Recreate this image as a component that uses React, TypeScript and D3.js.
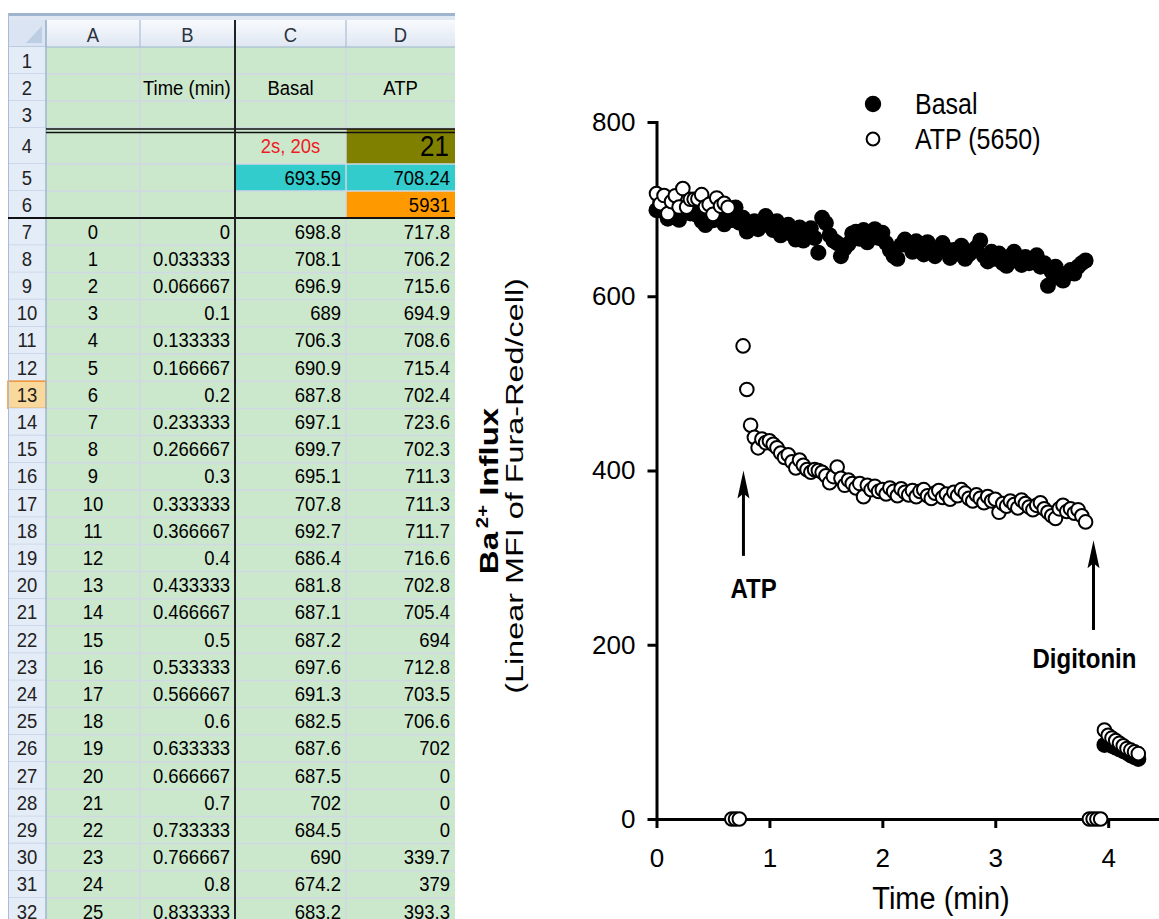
import React, { useEffect, useRef } from "react";
import * as d3 from "d3";

const FONT = "Arial, 'Liberation Sans', Helvetica, sans-serif";

// ---------- spreadsheet contents (left half) ----------
const colLetters = ["A", "B", "C", "D"];
const sampleNo = ["0", "1", "2", "3", "4", "5", "6", "7", "8", "9", "10", "11", "12",
  "13", "14", "15", "16", "17", "18", "19", "20", "21", "22", "23", "24", "25"];
const timeMin = ["0", "0.033333", "0.066667", "0.1", "0.133333", "0.166667", "0.2",
  "0.233333", "0.266667", "0.3", "0.333333", "0.366667", "0.4", "0.433333", "0.466667",
  "0.5", "0.533333", "0.566667", "0.6", "0.633333", "0.666667", "0.7", "0.733333",
  "0.766667", "0.8", "0.833333"];
const basalRaw = ["698.8", "708.1", "696.9", "689", "706.3", "690.9", "687.8", "697.1",
  "699.7", "695.1", "707.8", "692.7", "686.4", "681.8", "687.1", "687.2", "697.6",
  "691.3", "682.5", "687.6", "687.5", "702", "684.5", "690", "674.2", "683.2"];
const atpRaw = ["717.8", "706.2", "715.6", "694.9", "708.6", "715.4", "702.4", "723.6",
  "702.3", "711.3", "711.3", "711.7", "716.6", "702.8", "705.4", "694", "712.8",
  "703.5", "706.6", "702", "0", "0", "0", "339.7", "379", "393.3"];

// ---------- chart data (right half) ----------
const sampleStep = 1 / 30; // one reading every 2 s
const basal: (number | null)[] = [
  698.8, 708.1, 696.9, 689, 706.3, 690.9, 687.8, 697.1, 699.7, 695.1,
  707.8, 692.7, 686.4, 681.8, 687.1, 687.2, 697.6, 691.3, 682.5, 687.6,
  687.5, 702, 684.5, 690, 674.2, 683.2, 686, 677, 684, 692,
  681, 676, 686, 670, 676, 682, 671, 665, 679, 664,
  671, 678, 667, 650, 690, 684, 670, 664, 661, 646,
  655, 660, 672, 674, 666, 676, 662, 670, 677, 667,
  673, 661, 653, 646, 643, 659, 665, 658, 651, 663,
  657, 648, 662, 655, 646, 652, 661, 654, 644, 653,
  649, 658, 643, 648, 652, 656, 664, 646, 640, 651,
  643, 649, 638, 635, 646, 651, 641, 636, 645, 638,
  641, 647, 634, 638, 612, 628, 634, 621, 618, 626,
  630, 626, 634, 638, 641,
  null, null, null, null,
  85, 86, 84, 82, 80, 78, 76, 73, 71, 69,
];
const atp: (number | null)[] = [
  717.8, 706.2, 715.6, 694.9, 708.6, 715.4, 702.4, 723.6, 702.3, 711.3,
  711.3, 711.7, 716.6, 702.8, 705.4, 694, 712.8, 703.5, 706.6, 702,
  0, 0, 0, 543, 493, 452,
  438, 426, 436, 432, 434, 430, 426, 420, 415, 418,
  410, 403, 412, 406, 401, 398, 401, 400, 398, 394,
  386, 393, 404, 391, 383, 389, 385, 380, 385, 370,
  383, 378, 382, 376, 378, 373, 380, 376, 371, 379,
  375, 372, 377, 370, 376, 378, 371, 368, 374, 377,
  369, 373, 367, 375, 371, 378, 374, 368, 365, 372,
  368, 363, 370, 365, 367, 352, 362, 359, 365, 361,
  357, 366, 362, 358, 355, 360, 363, 356, 352, 348,
  345, 356, 360, 353, 356, 351, 355, 348, 341,
  0, 0, 0, 0,
  102, 96, 93, 90, 87, 84, 81, 79, 77, 75,
];
const xTicks = [0, 1, 2, 3, 4];
const yTicks = [0, 200, 400, 600, 800];
const legendItems = [
  { label: "Basal", open: false },
  { label: "ATP (5650)", open: true },
];
const arrows = [
  { label: "ATP", t: 0.77, from: 302, to: 400, labelT: 0.86, labelV: 254 },
  { label: "Digitonin", t: 3.87, from: 217, to: 320, labelT: 3.79, labelV: 173 },
];

// ---------- spreadsheet ----------
const colEdges = [8, 46, 140, 235, 346, 455];
const rowY = d3.scaleLinear().domain([7, 32]).range([218, 898]);
const rowTop = (n: number) =>
  n >= 7 ? rowY(n) : [20, 47, 74, 101, 128, 164, 191][n];
const rowMid = (n: number) => (rowTop(n) + rowTop(n + 1)) / 2;

// excel text looks slightly taller than plain Arial
const Tall = ({ x, y, s = 1.12, children, ...rest }: any) => (
  <text transform={`translate(${x},${y}) scale(1,${s})`} {...rest}>{children}</text>
);

const Sheet = () => {
  const rows = d3.range(1, 33);
  const cellText = (txt: string, col: number, row: number, align: string, extra: any = {}) => {
    const l = colEdges[col + 1];
    const r = colEdges[col + 2];
    const xPos = align === "end" ? r - 5 : align === "start" ? l + 3 : (l + r) / 2;
    return (
      <Tall key={`${col}-${row}-${txt}`} x={xPos} y={rowMid(row) + 7}
        textAnchor={align} fontSize={18.5} fill="#000" {...extra}>{txt}</Tall>
    );
  };
  return (
    <g fontFamily={FONT}>
      {/* frame */}
      <rect x={8} y={13} width={447} height={8} fill="#dfe7f2" />
      <line x1={8} x2={455} y1={14.5} y2={14.5} stroke="#9fb4cf" strokeWidth={3} />
      {/* cells background */}
      <rect x={46} y={47} width={409} height={872} fill="#cce8cc" />
      {/* coloured cells */}
      <rect x={346} y={128} width={109} height={36} fill="#808000" />
      <rect x={235} y={164} width={220} height={27} fill="#33cccc" />
      <rect x={346} y={191} width={109} height={27} fill="#ff9900" />
      {/* grid lines */}
      {rows.map((r) => (
        <line key={"h" + r} x1={46} x2={455} y1={rowTop(r + 1)} y2={rowTop(r + 1)}
          stroke="#d0d7e5" strokeWidth={1.5} />
      ))}
      {[140, 346].map((c) => (
        <line key={"v" + c} x1={c} x2={c} y1={47} y2={919} stroke="#d0d7e5" strokeWidth={1.5} />
      ))}
      {/* column headers */}
      <defs>
        <linearGradient id="hdr" x1="0" y1="0" x2="0" y2="1">
          <stop offset="0" stopColor="#f8fafd" />
          <stop offset="1" stopColor="#dfe7f3" />
        </linearGradient>
      </defs>
      <rect x={8} y={20} width={447} height={27} fill="url(#hdr)" />
      <rect x={8} y={20} width={38} height={27} fill="#dae4f2" />
      <polygon points="42,26 42,43 26,43" fill="#bccde4" />
      {colLetters.map((c, i) => (
        <g key={c}>
          <line x1={colEdges[i + 1]} x2={colEdges[i + 1]} y1={20} y2={47} stroke="#b8c9dc" strokeWidth={1.5} />
          <Tall x={(colEdges[i + 1] + colEdges[i + 2]) / 2} y={42} textAnchor="middle"
            fontSize={18.5} fill="#2b3440">{c}</Tall>
        </g>
      ))}
      <line x1={8} x2={455} y1={47} y2={47} stroke="#9eb6ce" strokeWidth={1.2} />
      {/* row headers */}
      {rows.map((r) => (
        <g key={"rh" + r}>
          <rect x={8} y={rowTop(r)} width={38} height={rowTop(r + 1) - rowTop(r)}
            fill={r === 13 ? "#f9d89c" : "#e4ecf7"}
            stroke={r === 13 ? "#f29436" : "none"} strokeWidth={1.5} />
          <line x1={8} x2={46} y1={rowTop(r + 1)} y2={rowTop(r + 1)} stroke="#c3d2e4" strokeWidth={1.5} />
          <Tall x={27} y={rowMid(r) + 7} textAnchor="middle" fontSize={18.5} fill="#222">{r}</Tall>
        </g>
      ))}
      <line x1={46} x2={46} y1={20} y2={919} stroke="#9eb6ce" strokeWidth={1.5} />
      <line x1={8.5} x2={8.5} y1={13} y2={919} stroke="#a9bcd4" strokeWidth={1} />
      {/* header texts */}
      {cellText("Time (min)", 1, 2, "start")}
      {cellText("Basal", 2, 2, "middle")}
      {cellText("ATP", 3, 2, "middle")}
      {cellText("2s, 20s", 2, 4, "middle", { fill: "#ee1c24" })}
      <Tall x={449} y={rowMid(4) + 10} textAnchor="end" fontSize={26} fill="#000">21</Tall>
      {cellText("693.59", 2, 5, "end")}
      {cellText("708.24", 3, 5, "end")}
      {cellText("5931", 3, 6, "end")}
      {/* data rows */}
      {sampleNo.map((s, i) => (
        <g key={"d" + i}>
          {cellText(s, 0, i + 7, "middle")}
          {cellText(timeMin[i], 1, i + 7, "end")}
          {cellText(basalRaw[i], 2, i + 7, "end")}
          {cellText(atpRaw[i], 3, i + 7, "end")}
        </g>
      ))}
      {/* heavy borders */}
      <line x1={46} x2={455} y1={129} y2={129} stroke="#111" strokeWidth={1.3} />
      <line x1={46} x2={455} y1={132.5} y2={132.5} stroke="#111" strokeWidth={1.3} />
      <line x1={8} x2={455} y1={218} y2={218} stroke="#111" strokeWidth={2} />
      <line x1={235} x2={235} y1={20} y2={919} stroke="#222" strokeWidth={2} />
    </g>
  );
};

// ---------- chart ----------
const x = d3.scaleLinear().domain([0, 4.45]).range([656.5, 1159]);
const y = d3.scaleLinear().domain([0, 800]).range([819, 122]);

const Chart = () => {
  const xAxisRef = useRef<SVGGElement>(null);
  const yAxisRef = useRef<SVGGElement>(null);

  useEffect(() => {
    const gx = d3.select(xAxisRef.current!);
    gx.call(d3.axisBottom(x).tickValues(xTicks).tickSize(9).tickSizeOuter(0).tickPadding(21).tickFormat(d3.format("d")) as any);
    const gy = d3.select(yAxisRef.current!);
    gy.call(d3.axisLeft(y).tickValues(yTicks).tickSize(9).tickSizeOuter(0).tickPadding(12).tickFormat(d3.format("d")) as any);
    [gx, gy].forEach((g) => {
      g.attr("font-size", 26).attr("font-family", FONT);
      g.select(".domain").attr("stroke-width", 3).attr("stroke-linecap", "square");
      g.selectAll(".tick line").attr("stroke-width", 3);
      g.selectAll(".tick text").attr("fill", "#000");
    });
  }, []);

  const pts = (vals: (number | null)[]) =>
    vals.map((v, i) => ({ t: i * sampleStep, v })).filter((d) => d.v !== null) as { t: number; v: number }[];

  return (
    <g fontFamily={FONT}>
      <text transform="translate(498,491) rotate(-90) scale(1.27,1)" textAnchor="middle"
        fontSize={26} fontWeight="bold">
        Ba<tspan dx={3} dy={-10} fontSize={16}>2+</tspan><tspan dy={10}> Influx</tspan>
      </text>
      <text transform="translate(523,486) rotate(-90) scale(1.35,1)" textAnchor="middle" fontSize={24}>
        (Linear MFI of Fura-Red/cell)
      </text>
      <Tall x={941} y={909} s={1.05} textAnchor="middle" fontSize={29}>Time (min)</Tall>

      <g ref={xAxisRef} transform={`translate(0,${y(0)})`} />
      <g ref={yAxisRef} transform={`translate(${x(0)},0)`} />

      {pts(basal).map((d, i) => (
        <circle key={"b" + i} cx={x(d.t)} cy={y(d.v)} r={8} fill="#000" />
      ))}
      {pts(atp).map((d, i) => (
        <circle key={"a" + i} cx={x(d.t)} cy={y(d.v)} r={6.8} fill="#fff" stroke="#000" strokeWidth={2} />
      ))}

      {arrows.map((a) => (
        <g key={a.label}>
          <line x1={x(a.t)} x2={x(a.t)} y1={y(a.from)} y2={y(a.to) + 20} stroke="#000" strokeWidth={3} />
          <polygon
            points={`${x(a.t)},${y(a.to)} ${x(a.t) - 6},${y(a.to) + 28} ${x(a.t)},${y(a.to) + 23} ${x(a.t) + 6},${y(a.to) + 28}`}
            fill="#000" />
          <Tall x={x(a.labelT)} y={y(a.labelV)} s={1.18} textAnchor="middle" fontSize={24} fontWeight="bold">{a.label}</Tall>
        </g>
      ))}

      {legendItems.map((l, i) => (
        <g key={l.label} transform={`translate(873,${104 + i * 35})`}>
          {l.open
            ? <circle r={6.4} fill="#fff" stroke="#000" strokeWidth={2} />
            : <circle r={8.2} fill="#000" />}
          <Tall x={42} y={10} s={1.15} fontSize={25}>{l.label}</Tall>
        </g>
      ))}
    </g>
  );
};

export default function App() {
  return (
    <svg width={1159} height={919} viewBox="0 0 1159 919"
      style={{ position: "absolute", left: 0, top: 0, background: "#fff" }}>
      <rect width={1159} height={919} fill="#fff" />
      <Sheet />
      <Chart />
    </svg>
  );
}
